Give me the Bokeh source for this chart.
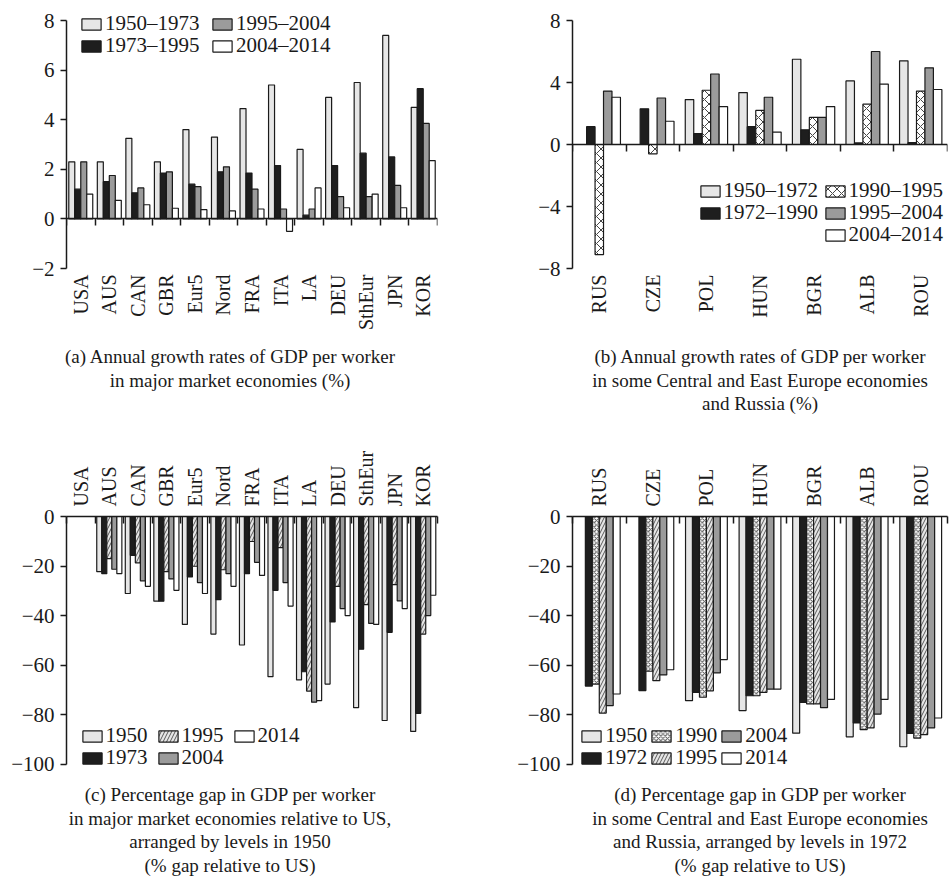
import math
from bokeh.plotting import figure
from bokeh.models import (FixedTicker, LinearAxis, Range1d, Legend, LegendItem,
                          ColumnDataSource, Div)
from bokeh.layouts import column, row
from bokeh.embed import file_html
from bokeh.resources import INLINE

NAN = float("nan")
FONT = "Liberation Serif"
INK = "#1a1a1a"
TICK_FS = "21px"
CAT_FS = "20px"
LEG_FS = "21px"

# ---------------- data ----------------
market = ["USA", "AUS", "CAN", "GBR", "Eur5", "Nord", "FRA", "ITA", "LA", "DEU", "SthEur", "JPN", "KOR"]
ceec = ["RUS", "CZE", "POL", "HUN", "BGR", "ALB", "ROU"]

# (a) annual growth of GDP per worker, market economies (%)
a_periods = ["1950–1973", "1973–1995", "1995–2004", "2004–2014"]
a_1950_1973 = [2.3, 2.3, 3.25, 2.3, 3.6, 3.3, 4.45, 5.4, 2.8, 4.9, 5.5, 7.4, 4.5]
a_1973_1995 = [1.2, 1.5, 1.05, 1.85, 1.4, 1.9, 1.85, 2.15, 0.15, 2.15, 2.65, 2.5, 5.25]
a_1995_2004 = [2.3, 1.75, 1.25, 1.9, 1.3, 2.1, 1.2, 0.4, 0.4, 0.9, 0.9, 1.35, 3.85]
a_2004_2014 = [1.0, 0.75, 0.57, 0.43, 0.37, 0.32, 0.4, -0.5, 1.25, 0.45, 1.0, 0.45, 2.35]

# (b) annual growth of GDP per worker, CEE economies and Russia (%)
b_periods = ["1950–1972", "1972–1990", "1990–1995", "1995–2004", "2004–2014"]
b_1950_1972 = [NAN, NAN, 2.9, 3.35, 5.5, 4.1, 5.4]
b_1972_1990 = [1.15, 2.3, 0.7, 1.15, 0.95, 0.1, 0.12]
b_1990_1995 = [-7.1, -0.6, 3.5, 2.2, 1.75, 2.6, 3.45]
b_1995_2004 = [3.45, 3.0, 4.55, 3.05, 1.75, 6.0, 4.95]
b_2004_2014 = [3.05, 1.5, 2.45, 0.8, 2.45, 3.9, 3.55]

# (c) % gap in GDP per worker relative to US, market economies
c_years = ["1950", "1973", "1995", "2004", "2014"]
c_1950 = [0, -22.3, -31.1, -34.2, -43.6, -47.5, -51.9, -64.7, -66.0, -67.7, -77.2, -82.4, -86.8]
c_1973 = [0, -23.1, -15.7, -34.2, -24.4, -33.6, -23.1, -29.8, -62.7, -42.6, -53.6, -46.8, -79.5]
c_1995 = [0, -17.0, -18.7, -22.3, -20.1, -21.5, -10.1, -12.6, -70.5, -28.2, -35.6, -27.5, -47.5]
c_2004 = [0, -21.3, -26.0, -25.2, -26.7, -23.1, -18.5, -26.7, -75.0, -37.2, -43.2, -34.1, -40.0]
c_2014 = [0, -23.1, -28.2, -29.8, -31.1, -28.2, -23.8, -36.2, -74.4, -40.0, -43.6, -37.2, -31.8]

# (d) % gap in GDP per worker relative to US, CEE economies and Russia
d_years = ["1950", "1972", "1990", "1995", "2004", "2014"]
d_1950 = [NAN, NAN, -74.4, -78.4, -87.5, -89.0, -93.0]
d_1972 = [-68.5, -70.3, -71.0, -72.4, -75.1, -83.4, -87.6]
d_1990 = [-67.7, -62.5, -73.0, -72.4, -75.7, -86.1, -89.5]
d_1995 = [-79.4, -66.3, -70.4, -71.0, -75.7, -85.4, -88.1]
d_2004 = [-76.4, -64.0, -63.2, -69.7, -77.2, -79.8, -85.4]
d_2014 = [-71.7, -61.9, -57.8, -69.7, -73.9, -73.9, -81.4]

a_ticks = [-2, 0, 2, 4, 6, 8]
b_ticks = [-8, -4, 0, 4, 8]
gap_ticks = [-100, -80, -60, -40, -20, 0]

cap_a = ["(a) Annual growth rates of GDP per worker",
         "in major market economies (%)"]
cap_b = ["(b) Annual growth rates of GDP per worker",
         "in some Central and East Europe economies",
         "and Russia (%)"]
cap_c = ["(c) Percentage gap in GDP per worker",
         "in major market economies relative to US,",
         "arranged by levels in 1950",
         "(% gap relative to US)"]
cap_d = ["(d) Percentage gap in GDP per worker",
         "in some Central and East Europe economies",
         "and Russia, arranged by levels in 1972",
         "(% gap relative to US)"]

# ---------------- styles ----------------
LIGHT = dict(fill_color="#e6e6e6")
BLACK = dict(fill_color="#1e1e1e")
GRAY = dict(fill_color="#9b9b9b")
WHITE = dict(fill_color="#ffffff")
CROSS_B = dict(fill_color="#ffffff", hatch_pattern="x", hatch_scale=9, hatch_color="#444444", hatch_weight=1)
CROSS_D = dict(fill_color="#ffffff", hatch_pattern="x", hatch_scale=4.5, hatch_color="#555555", hatch_weight=1)
DIAG = dict(fill_color="#e6e6e6", hatch_pattern="/", hatch_scale=7, hatch_color="#333333", hatch_weight=0.8)


def fmt(t):
    return "\u2212%d" % abs(t) if t < 0 else "%d" % t


def base_fig(n, y0, y1, left, right, top, bottom, fw, fh):
    p = figure(width=left + fw + right, height=top + fh + bottom,
               x_range=Range1d(0, n), y_range=Range1d(y0, y1),
               output_backend="svg", toolbar_location=None,
               x_axis_location=None, y_axis_location=None,
               min_border_left=left, min_border_right=right,
               min_border_top=top, min_border_bottom=bottom, margin=0)
    p.outline_line_color = None
    p.grid.visible = False
    p.background_fill_color = "white"
    p.border_fill_color = "white"
    return p


def style_axis(ax, fs=TICK_FS):
    ax.axis_line_color = INK
    ax.axis_line_width = 1.5
    ax.major_tick_line_color = INK
    ax.major_tick_line_width = 1.5
    ax.minor_tick_line_color = None
    ax.major_label_text_font = FONT
    ax.major_label_text_font_size = fs
    ax.major_label_text_color = INK


def add_yaxis(p, ticks):
    ax = LinearAxis(ticker=FixedTicker(ticks=ticks),
                    major_label_overrides={t: fmt(t) for t in ticks},
                    bounds=(min(ticks), max(ticks)))
    style_axis(ax)
    ax.major_tick_in = 0
    ax.major_tick_out = 6
    ax.major_label_standoff = 6
    p.add_layout(ax, "left")


def add_bottom_category_axes(p, names):
    n = len(names)
    zero = LinearAxis(ticker=FixedTicker(ticks=list(range(n + 1))),
                      major_label_overrides={i: "" for i in range(n + 1)},
                      fixed_location=0)
    style_axis(zero)
    zero.major_tick_in = 0
    zero.major_tick_out = 7
    p.add_layout(zero, "below")
    lab = LinearAxis(ticker=FixedTicker(ticks=[i + 0.5 for i in range(n)]),
                     major_label_overrides={i + 0.5: nm for i, nm in enumerate(names)})
    style_axis(lab, CAT_FS)
    lab.axis_line_color = None
    lab.major_tick_line_color = None
    lab.major_tick_in = 0
    lab.major_tick_out = 0
    lab.major_label_orientation = math.pi / 2
    lab.major_label_standoff = 6
    p.add_layout(lab, "below")


def add_top_category_axis(p, names):
    n = len(names)
    ax = LinearAxis(ticker=FixedTicker(ticks=[i + 0.5 for i in range(n)],
                                       minor_ticks=list(range(n + 1))),
                    major_label_overrides={i + 0.5: nm for i, nm in enumerate(names)})
    style_axis(ax, CAT_FS)
    ax.major_tick_line_color = None
    ax.major_tick_in = 0
    ax.major_tick_out = 0
    ax.minor_tick_line_color = INK
    ax.minor_tick_line_width = 1.5
    ax.minor_tick_in = 7
    ax.minor_tick_out = 0
    ax.major_label_orientation = math.pi / 2
    ax.major_label_standoff = 10
    p.add_layout(ax, "above")


def add_bars(p, names, series, styles, width):
    k = len(series)
    rends = []
    for j, (vals, st) in enumerate(zip(series, styles)):
        off = (j - (k - 1) / 2) * width
        src = ColumnDataSource(dict(x=[i + 0.5 + off for i in range(len(names))], top=vals))
        r = p.vbar(x="x", top="top", bottom=0, width=width, source=src,
                   line_color=INK, line_width=1.2, **st)
        rends.append(r)
    return rends


def row_legend(p, labels, rends, loc, label_width):
    p.add_layout(Legend(items=[LegendItem(label=l, renderers=[r]) for l, r in zip(labels, rends)],
                        location=loc, orientation="horizontal",
                        glyph_width=24, glyph_height=14, label_standoff=2, label_width=label_width,
                        label_height=18, spacing=0, padding=0, margin=0,
                        border_line_color=None, background_fill_alpha=0,
                        label_text_font=FONT, label_text_font_size=LEG_FS, label_text_color=INK))


def caption_div(lines, width, height, ml, pt):
    inner_w = width - ml - (10 if ml == 0 else 0)
    html = ('<div style="font-family:\'Liberation Serif\',serif; font-size:19px; line-height:23.5px; '
            'text-align:center; color:#1a1a1a; white-space:nowrap; width:%dpx; '
            'padding-top:%dpx; margin:0 0 0 %dpx;">%s</div>'
            % (inner_w, pt, ml, "<br>".join(lines)))
    return Div(text=html, width=width, height=height, margin=0)


# extra room above the top tick of row 1 so the legend is not clipped
A_TOP = 8 + 12 / 24.8
B_TOP = 8 + 12 / 15.5

# ---------------- panel (a) ----------------
pa = base_fig(len(market), -2, A_TOP, 66, 33, 8, 74, 371, 260)
add_yaxis(pa, a_ticks)
add_bottom_category_axes(pa, market)
ra = add_bars(pa, market, [a_1950_1973, a_1973_1995, a_1995_2004, a_2004_2014],
              [LIGHT, BLACK, GRAY, WHITE], 0.21)
row_legend(pa, [a_periods[0], a_periods[2]], [ra[0], ra[2]], (13, 232), 105)
row_legend(pa, [a_periods[1], a_periods[3]], [ra[1], ra[3]], (13, 210), 105)

# ---------------- panel (b) ----------------
pb = base_fig(len(ceec), -8, B_TOP, 102, 2, 8, 74, 375, 260)
add_yaxis(pb, b_ticks)
add_bottom_category_axes(pb, ceec)
rb = add_bars(pb, ceec, [b_1950_1972, b_1972_1990, b_1990_1995, b_1995_2004, b_2004_2014],
              [LIGHT, BLACK, CROSS_B, GRAY, WHITE], 0.158)
row_legend(pb, [b_periods[0], b_periods[2]], [rb[0], rb[2]], (125.6, 65), 99)
row_legend(pb, [b_periods[1], b_periods[3]], [rb[1], rb[3]], (125.6, 43), 99)
row_legend(pb, [b_periods[4]], [rb[4]], (250.6, 21), 99)

# ---------------- panel (c) ----------------
pc = base_fig(len(market), -103, 0, 66, 33, 86, 12, 371, 255)
add_yaxis(pc, gap_ticks)
add_top_category_axis(pc, market)
rc = add_bars(pc, market, [c_1950, c_1973, c_1995, c_2004, c_2014],
              [LIGHT, BLACK, DIAG, GRAY, WHITE], 0.176)
row_legend(pc, [c_years[0], c_years[2], c_years[4]], [rc[0], rc[2], rc[4]], (13.6, 23), 50)
row_legend(pc, [c_years[1], c_years[3]], [rc[1], rc[3]], (13.6, 1), 50)

# ---------------- panel (d) ----------------
pd_ = base_fig(len(ceec), -103, 0, 102, 2, 86, 12, 375, 255)
add_yaxis(pd_, gap_ticks)
add_top_category_axis(pd_, ceec)
rd = add_bars(pd_, ceec, [d_1950, d_1972, d_1990, d_1995, d_2004, d_2014],
              [LIGHT, BLACK, CROSS_D, DIAG, GRAY, WHITE], 0.13)
row_legend(pd_, [d_years[0], d_years[2], d_years[4]], [rd[0], rd[2], rd[4]], (7.3, 23), 44)
row_legend(pd_, [d_years[1], d_years[3], d_years[5]], [rd[1], rd[3], rd[5]], (7.3, 1), 44)

# ---------------- captions ----------------
da = caption_div(cap_a, 470, 88, 0, 3)
db = caption_div(cap_b, 479, 88, 101, 3)
dc = caption_div(cap_c, 470, 100, 0, 0)
dd = caption_div(cap_d, 479, 100, 101, 0)

layout = column(row(pa, pb), row(da, db), row(pc, pd_), row(dc, dd))
open("out.html", "w").write(file_html(layout, INLINE))
